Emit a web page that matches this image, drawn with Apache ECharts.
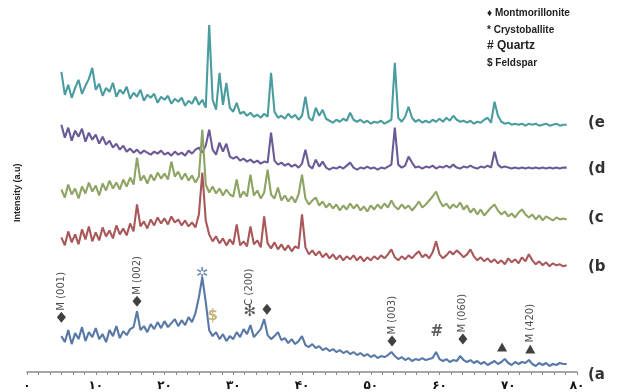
<!DOCTYPE html>
<html>
<head>
<meta charset="utf-8">
<script src="https://cdn.jsdelivr.net/npm/echarts@6/dist/echarts.min.js"></script>
<style>
    html, body { margin: 0; padding: 0; background: #fff; }
    #chart { width: 620px; height: 392px; }
</style>
</head>
<body>
<div id="chart"></div>
<script>
// scan: 2theta from 5 to 78.5 deg, step 0.5
var scanStart = 5, scanStep = 0.5, scanPoints = 148;

// x tick labels (Persian digits)
var tickLabels = ['۰', '۱۰', '۲۰', '۳۰', '۴۰', '۵۰', '۶۰', '۷۰', '۸۰'];

// intensities (a.u.), already stacked as in the figure
var sampleE = [
    301, 278, 288, 275, 285, 293, 279, 287, 294, 305,
    283, 289, 277, 285, 281, 290, 276, 283, 279, 286,
    274, 280, 276, 283, 272, 278, 275, 279, 270, 276,
    273, 277, 269, 274, 271, 275, 267, 272, 269, 276,
    268, 273, 265, 348, 273, 263, 300, 268, 290, 265,
    261, 270, 259, 261, 257, 260, 256, 258, 255, 259,
    256, 300, 261, 255, 257, 254, 259, 255, 258, 253,
    257, 276, 255, 252, 265, 257, 263, 254, 252, 250,
    253, 251, 254, 252, 260, 253, 251, 253, 250, 252,
    249, 251, 250, 252, 249, 251, 253, 310, 255, 251,
    256, 266, 255, 251, 253, 250, 252, 250, 253, 251,
    254, 251, 255, 252, 257, 253, 251, 252, 250, 252,
    249, 251, 250, 253, 255, 250, 271, 257, 251, 249,
    250, 248, 249, 248, 249, 247, 249, 248, 249, 247,
    248, 249, 247, 248, 249, 247, 248, 248
];
var sampleD = [
    248, 235, 245, 232, 242, 236, 244, 231, 240, 233,
    238, 229, 236, 228, 232, 225, 229, 223, 227, 221,
    224, 220, 223, 219, 222, 220, 218, 221, 219, 222,
    218, 220, 217, 221, 218, 220, 217, 222, 219, 223,
    225, 220, 227, 243, 223, 218, 230, 221, 229, 216,
    214, 216, 212, 214, 211, 213, 210, 212, 209, 211,
    210, 240, 212, 208, 210, 207, 209, 206, 208, 205,
    209, 223, 207, 204, 213, 206, 211, 205, 203, 205,
    204, 206, 204, 207, 210, 205, 203, 205, 204, 206,
    204, 205, 203, 205, 204, 206, 208, 245, 208, 205,
    207, 216, 210, 205, 206, 204, 206, 205, 207, 204,
    206, 205, 207, 205, 208, 205, 204, 206, 205, 207,
    205, 204, 206, 205, 207, 205, 221, 208, 205, 206,
    205, 204, 205, 204, 205, 204, 205, 204, 205, 204,
    205, 204, 205, 204, 205, 204, 205, 205
];
var sampleC = [
    183, 175, 188, 178, 184, 174, 186, 179, 190, 181,
    187, 177, 189, 182, 192, 184, 190, 183, 193, 186,
    195, 188, 215, 192, 197, 189, 198, 192, 200, 194,
    199, 193, 211, 196, 201, 193, 199, 192, 197, 190,
    196, 243, 188, 180, 186, 179, 184, 177, 183, 178,
    176, 193, 175, 181, 176, 198, 177, 182, 174, 180,
    203, 178, 174, 185, 172, 177, 171, 176, 170, 178,
    198, 174, 168, 172, 175, 167, 171, 165, 169, 164,
    168, 162, 167, 163, 169, 164, 168, 162, 166, 161,
    167, 163, 168, 164, 169, 165, 172, 166, 163, 168,
    164, 167, 162, 166, 171, 165, 168, 172, 176, 181,
    172, 166, 169, 164, 168, 165, 170, 163, 167, 160,
    164, 158, 163, 157, 161, 165, 168, 162, 158, 161,
    156, 159, 155, 160, 163, 158, 155, 158, 153, 157,
    152, 156, 154, 152, 155, 153, 154, 153
];
var sampleB = [
    135, 127, 141, 130, 138, 128, 143, 133, 146, 131,
    140, 132, 145, 136, 142, 134, 147, 138, 144, 137,
    149, 141, 168, 146, 151, 144, 153, 147, 155, 149,
    154, 148, 156, 150, 153, 147, 152, 146, 150, 145,
    158, 200, 152, 138, 131, 136, 129, 134, 127, 133,
    128, 148, 127, 131, 126, 146, 128, 132, 125, 156,
    129, 124, 130, 123, 128, 122, 127, 121, 126, 124,
    158, 125, 118, 122, 117, 121, 115, 119, 114, 118,
    113, 117, 112, 116, 113, 117, 112, 116, 111, 115,
    112, 116, 113, 117, 114, 118, 123, 115, 112, 116,
    113, 117, 114, 118, 121, 115, 118, 114, 120, 131,
    118, 114, 117, 121, 118, 122, 119, 115, 118, 123,
    116, 112, 115, 111, 114, 110, 113, 109, 112, 108,
    114, 110, 113, 109, 115, 111, 118, 112, 108, 111,
    107, 110, 106, 109, 107, 108, 106, 107
];
var sampleA = [
    36, 30, 42, 28, 39, 33, 45, 31, 40, 35,
    44, 33, 38, 30, 42, 36, 46, 34, 41, 37,
    43, 45, 61, 42, 46, 40, 48, 43, 50, 44,
    51, 45, 49, 53, 46, 52, 47, 55, 50, 59,
    75, 95, 70, 42, 36, 40, 33, 38, 31, 36,
    33, 40, 35, 43, 38, 47, 35, 39, 43, 53,
    37, 33, 36, 40, 32, 34, 29, 33, 28, 31,
    36, 27, 25, 28, 24, 26, 22, 24, 21, 23,
    20, 22, 19, 21, 18, 20, 17, 19, 16, 18,
    15, 17, 14, 16, 15, 17, 20, 16, 13, 15,
    12, 14, 11, 13, 12, 14, 12, 13, 14, 20,
    13, 11, 13, 10, 12, 11, 16, 12, 10, 12,
    9, 11, 8, 10, 7, 9, 11, 8, 10, 13,
    9, 7, 10, 8, 10, 9, 12, 8, 6, 9,
    7, 9, 6, 8, 7, 9, 8, 8
];

// peak markers on pattern (a)
var diamondTheta = [5.0, 16.0, 34.9, 53.1, 63.4];
var diamondHeight = [55, 71, 63, 31, 33];
var triangleTheta = [69.1, 73.2];
var triangleHeight = [25, 23];
var glyphTheta = [25.5, 27.0, 32.4, 59.6];
var glyphHeight = [98, 56, 60, 40];
var glyphText = ['✲', '$', '✻', '#'];
var glyphColor = ['#4f73a6', '#b2a45a', '#333333', '#333333'];
var peakTheta = [5.0, 16.0, 32.4, 53.1, 63.4, 73.2];
var peakHeight = [55, 71, 60, 31, 33, 23];
var peakText = ['M (001)', 'M (002)', 'C (200)', 'M (003)', 'M (060)', 'M (420)'];

var legendText = ['♦ Montmorillonite', '* Crystoballite', '# Quartz', '$ Feldspar'];
var sampleNames = ['(e', '(d', '(c', '(b', '(a'];

function pairs(values){
    var out = [];
    for (var i = 0; i < values.length; i++) {
        out.push([scanStart + i * scanStep, values[i]]);
    }
    return out;
}
function zip(xs, ys){
    return xs.map(function(x, i){ return [x, ys[i]]; });
}

var traces = [
    { data: sampleE, color: '#4a9c9e' },
    { data: sampleD, color: '#6a5a96' },
    { data: sampleC, color: '#8ea464' },
    { data: sampleB, color: '#a9585a' },
    { data: sampleA, color: '#5878a6' }
];

var series = traces.map(function(t, k){
    return {
        name: sampleNames[k],
        type: 'line',
        data: pairs(t.data),
        showSymbol: false,
        lineStyle: { color: t.color, width: 2.1 },
        z: 2 + k
    };
});

series.push({
    type: 'scatter',
    data: zip(diamondTheta, diamondHeight),
    symbol: 'diamond',
    symbolSize: [9, 11],
    itemStyle: { color: '#111' },
    z: 10
});
series.push({
    type: 'scatter',
    data: zip(triangleTheta, triangleHeight),
    symbol: 'triangle',
    symbolSize: [10, 9],
    itemStyle: { color: '#111' },
    z: 10
});
series.push({
    type: 'scatter',
    data: glyphTheta.map(function(x, i){
        return {
            value: [x, glyphHeight[i]],
            label: { formatter: glyphText[i], color: glyphColor[i] }
        };
    }),
    symbolSize: 1,
    itemStyle: { color: 'transparent' },
    label: {
        show: true, position: 'inside',
        fontSize: 15, fontWeight: 'bold', fontFamily: 'DejaVu Sans'
    },
    z: 10
});
series.push({
    type: 'scatter',
    data: peakTheta.map(function(x, i){
        return { value: [x, peakHeight[i]], name: peakText[i] };
    }),
    symbolSize: 1,
    itemStyle: { color: 'transparent' },
    label: {
        show: true, position: 'top', distance: 6, rotate: 90,
        align: 'left', verticalAlign: 'middle',
        formatter: '{b}', fontSize: 10, color: '#222',
        fontFamily: 'DejaVu Sans'
    },
    z: 10
});

var graphics = [];
legendText.forEach(function(txt, i){
    graphics.push({
        type: 'text', left: 487, top: [8, 25, 40, 58][i],
        style: {
            text: txt, fill: '#222',
            font: (i === 2 ? 'bold 12px' : 'bold 10px') + ' "Liberation Sans", sans-serif'
        }
    });
});
sampleNames.forEach(function(txt, i){
    graphics.push({
        type: 'text', left: 588, top: [116, 162, 211, 260, 368][i],
        style: { text: txt, fill: '#333', font: 'bold 15px "DejaVu Sans", sans-serif' }
    });
});
graphics.push({
    type: 'text', x: 13, y: 222, rotation: Math.PI / 2,
    style: { text: 'Intensity (a.u)', fill: '#222', font: 'bold 9px "Liberation Sans", sans-serif' }
});

var chart = echarts.init(document.getElementById('chart'));
chart.setOption({
    animation: false,
    backgroundColor: '#fff',
    grid: { left: 27, right: 43, top: 23, bottom: 19 },
    xAxis: {
        type: 'value', min: 0, max: 80, interval: 10,
        axisLine: { lineStyle: { color: '#8a8a8a', width: 1.5 } },
        axisTick: { length: 3, lineStyle: { color: '#8a8a8a' } },
        minorTick: { show: true, splitNumber: 6, length: 3, lineStyle: { color: '#8a8a8a' } },
        splitLine: { show: false },
        axisLabel: {
            formatter: function(v){ return tickLabels[Math.round(v / 10)]; },
            color: '#111', fontSize: 12, fontWeight: 'bold',
            fontFamily: 'DejaVu Sans', margin: 8
        }
    },
    yAxis: { type: 'value', min: 0, max: 350, show: false },
    series: series,
    graphic: graphics
});
</script>
</body>
</html>
